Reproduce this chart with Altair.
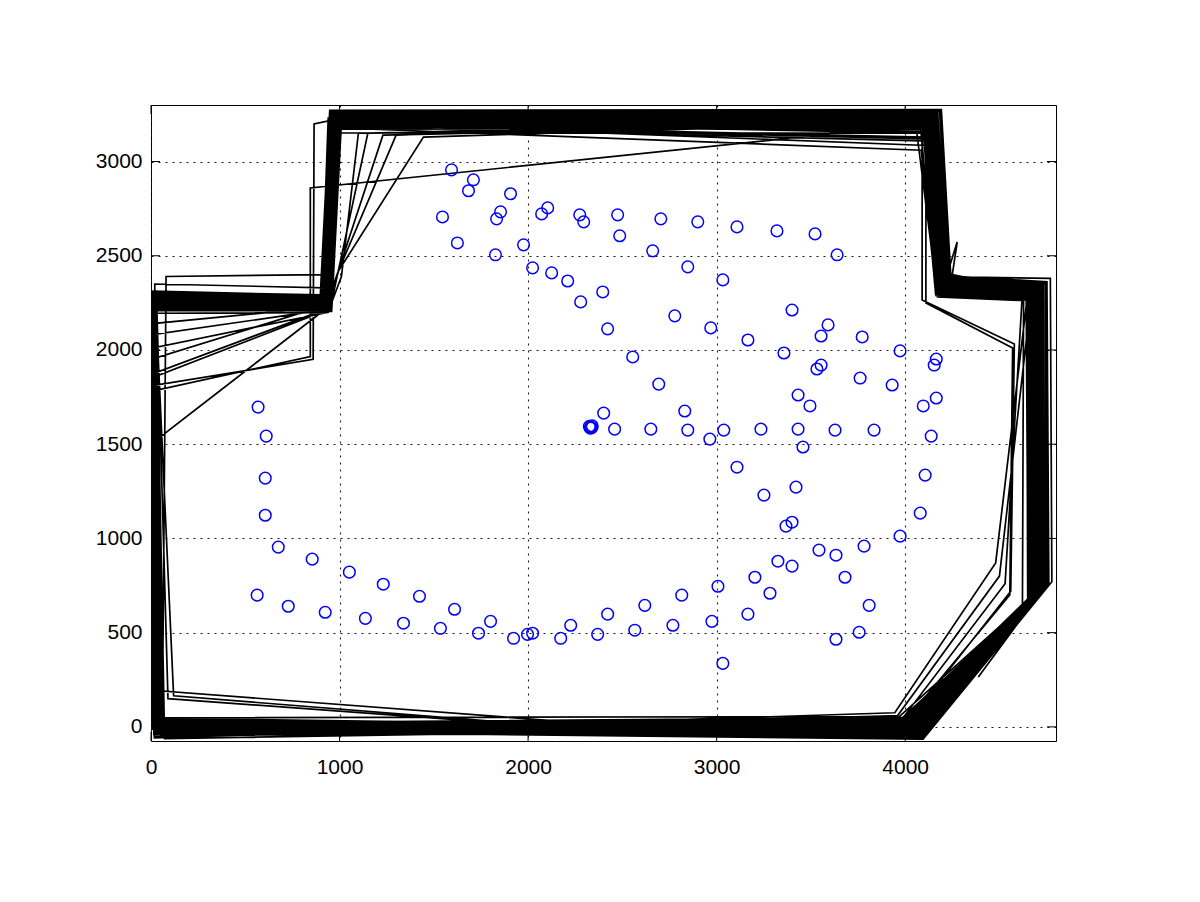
import altair as alt
import pandas as pd

# ---------------- data ----------------
circle_x = [1594, 1710, 1684, 1546, 1625, 1907, 1854, 1833, 2104, 2072, 2274, 2295, 2475, 2704, 2900,
            2486, 1976, 1827, 2661, 2024, 2125, 2847, 2210, 2396, 2279, 3033, 2778, 2422, 2969, 2555,
            2693, 2401, 2831, 3108, 3320, 3522, 3639, 3400, 3166, 3591, 3554, 3772, 3357, 3973, 3554,
            3532, 4165, 4154, 3761, 3931, 3432, 3495, 4096, 4165,
            568, 611, 606, 606, 675, 563, 855, 728, 1052, 924, 1232, 1137, 1424, 1339, 1610,
            1535, 1737, 1801, 1923, 1997, 2024, 2173, 2226, 2369, 2422, 2566, 2619, 2768, 2815, 2975, 3007,
            2459, 2651, 2847, 2964, 3038, 3235, 3432, 3628, 3835, 4138, 3458, 3108, 3421, 3251, 4106,
            4080, 3400, 3368, 3973, 3543, 3633, 3782, 3325, 3400, 3203, 3681, 3283, 3166, 3809, 3756,
            3633, 3033, 2332, 2325, 2338, 2330, 2340]
circle_y = [2956, 2903, 2845, 2706, 2568, 2829, 2733, 2696, 2754, 2722, 2717, 2680, 2717, 2696, 2680,
            2606, 2558, 2505, 2526, 2436, 2409, 2441, 2366, 2308, 2255, 2372, 2181, 2112, 2117, 1963,
            1819, 1665, 1676, 2653, 2632, 2616, 2505, 2212, 2053, 2133, 2074, 2069, 1984, 1995, 1920,
            1899, 1952, 1920, 1851, 1814, 1761, 1703, 1703, 1745,
            1697, 1543, 1320, 1123, 954, 699, 890, 640, 821, 608, 757, 576, 693, 550, 624,
            523, 497, 560, 470, 491, 497, 470, 539, 491, 598, 513, 645, 539, 699, 560, 746,
            1580, 1580, 1575, 1527, 1575, 1580, 1580, 1575, 1575, 1543, 1485, 1378, 1272, 1230, 1336,
            1134, 1086, 1065, 1012, 938, 911, 959, 879, 853, 794, 794, 709, 598, 645, 502,
            465, 337, 1591, 1595, 1588, 1585, 1597]

# robot trajectory, lap by lap (vertices)
laps = [
    [(35, -20), (8, 2265), (935, 2235), (985, 3215), (4125, 3230), (4195, 2335), (4690, 2300), (4700, 705), (4030, 5)],
    [(40, -10), (0, 1500), (955, 2240), (1000, 3205), (4110, 3215), (4185, 2320), (4680, 2295), (4690, 700), (4020, 10)],
    [(25, 15), (-5, 2285), (915, 2255), (965, 3245), (4150, 3250), (4215, 2350), (4715, 2325), (4725, 725), (4065, -30)],
    [(60, -45), (22, 2240), (950, 2215), (1000, 3190), (4100, 3200), (4180, 2310), (4660, 2280), (4665, 680), (4000, 25)],
    [(25, 0), (5, 2270), (940, 2245), (995, 2420), (1445, 3130), (4130, 3210), (4198, 2336), (4694, 2304), (4704, 712), (4040, 2)],
    [(15, 35), (2, 2300), (905, 2275), (958, 3262), (4172, 3262), (4232, 2372), (4732, 2342), (4742, 742), (4085, -52)],
    [(35, -5), (10, 2262), (933, 2240), (983, 3220), (4090, 3160), (4090, 2265), (4579, 2032), (4560, 720), (4010, 20)],
    [(48, 0), (14, 2222), (958, 2205), (1008, 3172), (4082, 3178), (4162, 2292), (4642, 2268), (4652, 662), (3985, 42)],
    [(30, 20), (0, 1850), (930, 2210), (985, 3220), (4125, 3225), (4195, 2330), (4690, 2300), (4700, 705), (4035, 0)],
    [(72, -62), (30, 2195), (928, 2198), (983, 3152), (4062, 3150), (4172, 2282), (4628, 2262), (4622, 642), (3970, 55)],
    [(8, 48), (-2, 2312), (898, 2292), (948, 3272), (4192, 3275), (4242, 2392), (4752, 2362), (4762, 758), (4092, -62)],
    [(50, -20), (12, 2250), (950, 2230), (1010, 2390), (1100, 3150), (4120, 3220), (4192, 2330), (4686, 2298), (4694, 704), (4030, 6)],
    [(38, -8), (26, 2252), (944, 2242), (994, 3222), (4132, 3222), (4202, 2342), (4702, 2312), (4712, 712), (4042, -12)],
    [(28, -22), (8, 2272), (926, 2246), (976, 3230), (4135, 3235), (4200, 2330), (4276, 2573), (4250, 2400), (4690, 2310), (4702, 708), (4038, -2)],
    [(28, 22), (6, 2275), (925, 2250), (975, 3235), (4140, 3240), (4205, 2345), (4705, 2315), (4718, 730), (4055, -20)],
    [(55, -30), (0, 1870), (950, 2225), (995, 3195), (4100, 3120), (4182, 2312), (4665, 2282), (4672, 688), (4005, 22)],
    [(55, -30), (18, 2232), (955, 2222), (1005, 3200), (4110, 3205), (4188, 2318), (4675, 2288), (4680, 690), (4015, 15)],
    [(2300, 20), (60, 190), (20, 2240), (950, 2222), (1000, 3200), (4106, 3206), (4186, 2318), (4676, 2290), (4684, 696), (4010, 30)],
    [(20, 5), (4, 2290), (912, 2262), (962, 3250), (4160, 3255), (4222, 2360), (4722, 2332), (4735, 735), (4075, -40)],
    [(38, 5), (15, 2245), (945, 2235), (1000, 2440), (1230, 3140), (4108, 3200), (4186, 2316), (4672, 2286), (4678, 692), (4012, 16)],
    [(42, -15), (12, 2258), (938, 2232), (988, 3208), (4118, 3212), (4192, 2325), (4685, 2295), (4692, 698), (4025, 10)],
    [(42, 8), (14, 2256), (939, 2236), (989, 3210), (4116, 3215), (4190, 2320), (4650, 2300), (4480, 870), (3945, 75)],
    [(65, -50), (28, 2210), (948, 2208), (998, 3182), (4092, 3190), (4175, 2300), (4652, 2272), (4658, 672), (3992, 32)],
    [(20, 0), (0, 1950), (920, 2235), (972, 3238), (4142, 3244), (4208, 2348), (4708, 2318), (4716, 724), (4058, -22)],
    [(12, 40), (0, 2305), (902, 2282), (955, 3266), (4182, 3268), (4236, 2380), (4742, 2350), (4750, 750), (4088, -55)],
    [(40, 10), (0, 1809), (860, 1950), (865, 3200), (985, 3225), (4140, 3235), (4205, 2345), (4705, 2315), (4715, 720), (4052, -18)],
    [(33, -5), (10, 2270), (930, 2245), (980, 3228), (4135, 3232), (4198, 2338), (4695, 2305), (4705, 715), (4045, 0)],
    [(22, -15), (6, 2268), (935, 2248), (990, 2410), (1300, 3140), (4145, 3240), (4210, 2350), (4710, 2320), (4720, 722), (4060, -24)],
    [(50, 12), (16, 2248), (942, 2228), (992, 3195), (4105, 3160), (4185, 2305), (4668, 2285), (4672, 700), (4010, 20)],
    [(45, 15), (16, 2250), (943, 2232), (993, 3205), (4110, 3170), (4110, 2250), (4570, 2010), (4555, 700), (4000, 30)],
    [(24, -35), (5, 2282), (918, 2258), (968, 3240), (4145, 3245), (4210, 2352), (4712, 2322), (4722, 722), (4062, -25)],
    [(35, 30), (5, 2010), (940, 2200), (990, 3210), (4118, 3215), (4190, 2322), (4682, 2292), (4690, 702), (4022, 12)],
    [(45, 28), (20, 2236), (952, 2218), (1002, 3198), (4098, 3130), (4170, 2290), (4655, 2275), (4662, 690), (3995, 38)],
    [(32, -8), (10, 2264), (931, 2242), (981, 3222), (4126, 3226), (4196, 2334), (4670, 2290), (4500, 800), (3960, 60)],
    [(18, -58), (2, 2295), (908, 2270), (960, 3258), (4168, 3258), (4228, 2368), (4728, 2338), (4738, 738), (4080, -45)],
    [(48, 12), (18, 2238), (952, 2225), (985, 2380), (1150, 3150), (4102, 3190), (4180, 2302), (4658, 2276), (4664, 676), (3994, 34)],
    [(58, 8), (24, 2226), (956, 2212), (1006, 3185), (4088, 3110), (4168, 2295), (4648, 2270), (4655, 668), (3988, 48)],
    [(2000, 10), (90, 150), (30, 2260), (940, 2240), (990, 3215), (4122, 3222), (4194, 2328), (4688, 2298), (4696, 706), (4032, 4)],
    [(30, -25), (9, 2262), (932, 2238), (982, 3218), (4128, 3225), (4196, 2332), (4692, 2302), (4698, 708), (4035, -5)],
    [(15, -40), (0, 2080), (935, 2215), (984, 3224), (4134, 3230), (4200, 2340), (4698, 2308), (4708, 716), (4048, -8)],
    [(40, 45), (14, 2245), (946, 2230), (996, 3205), (4115, 3085), (4190, 2320), (4678, 2292), (4686, 695), (4020, 18)],
    [(60, 10), (80, 2390), (910, 2400), (940, 3230), (4136, 3236), (4200, 2340), (4700, 2310), (4710, 714), (4046, -6)],
    [(10, -12), (-4, 2298), (900, 2288), (952, 3268), (4188, 3270), (4238, 2385), (4745, 2355), (4755, 752), (4090, -58)],
    [(30, -10), (0, 1780), (845, 1965), (845, 2860), (3315, 3116), (4150, 3215), (4212, 2352), (4714, 2322), (4722, 726), (4064, -28)],
    [(52, -42), (21, 2230), (953, 2220), (1003, 3192), (4095, 3195), (4178, 2306), (4662, 2278), (4668, 678), (3998, 28)],
    [(52, 25), (20, 2234), (954, 2216), (1004, 3196), (4096, 3180), (4176, 2304), (4620, 2270), (4530, 760), (3990, 50)],
    [(26, 18), (7, 2272), (922, 2252), (972, 3232), (4138, 3238), (4202, 2342), (4700, 2318), (4714, 718), (4050, -15)],
    [(45, 10), (10, 2140), (945, 2230), (994, 3210), (4112, 3214), (4188, 2322), (4680, 2290), (4688, 698), (4018, 14)],
    [(44, -2), (13, 2255), (940, 2236), (990, 3212), (4120, 3150), (4194, 2328), (4688, 2298), (4695, 702), (4028, 8)],
    [(20, -30), (20, 2350), (920, 2330), (960, 3250), (4155, 3250), (4216, 2356), (4716, 2326), (4726, 726), (4068, -32)],
    [(62, 30), (26, 2215), (950, 2205), (1000, 3178), (4085, 3060), (4165, 2288), (4645, 2266), (4650, 665), (3982, 45)],
    [(1800, 30), (120, 165), (25, 2250), (944, 2236), (994, 3212), (4118, 3218), (4192, 2326), (4684, 2294), (4692, 700), (4026, 10)],
    [(18, -50), (-3, 2300), (904, 2280), (956, 3264), (4185, 3266), (4240, 2388), (4770, 2380), (4778, 770), (4095, -65)],
    [(16, -20), (3, 2288), (910, 2265), (963, 3252), (4158, 3252), (4218, 2358), (4718, 2328), (4728, 728), (4070, -35)],
    [(40, 0), (12, 2255), (940, 2236), (990, 3210), (4120, 3222), (4194, 2330), (4680, 2290), (4700, 690), (4388, 264)],
]

x_ticks = [0, 1000, 2000, 3000, 4000]
y_ticks = [0, 500, 1000, 1500, 2000, 2500, 3000]
x_domain = [0, 4800]
y_domain = [-75, 3300]

# ---------------- tables ----------------
rows = []
k = 0
for lap in laps:
    for px, py in lap:
        rows.append({"x": px, "y": py, "i": k})
        k += 1
path = pd.DataFrame(rows)
pts = pd.DataFrame({"x": circle_x, "y": circle_y})
xt = pd.DataFrame({"x": x_ticks})
yt = pd.DataFrame({"y": y_ticks})

W, H = 905, 636
FONT = "Liberation Sans"
xs = alt.Scale(domain=x_domain, nice=False, zero=False)
ys = alt.Scale(domain=y_domain, nice=False, zero=False)

common = dict(format="d", grid=True, gridDash=[2, 5], gridColor="#1a1a1a", gridWidth=1.1,
              gridOpacity=1, ticks=False, domain=False, labelFont=FONT, labelFontSize=21,
              labelColor="#000000", labelFlush=False, labelOverlap=False, title=None)
x_axis = alt.Axis(values=x_ticks, labelPadding=15, **common)
y_axis = alt.Axis(values=y_ticks, labelPadding=9, **common)

X = alt.X("x:Q", scale=xs, axis=x_axis)
Y = alt.Y("y:Q", scale=ys, axis=y_axis)

lines = alt.Chart(path).mark_line(color="#000000", strokeWidth=1.7, clip=True).encode(
    x=X, y=Y, order=alt.Order("i:Q"),
)

points = alt.Chart(pts).mark_point(shape="circle", filled=False, size=135, strokeWidth=1.5,
                                   color="#0000ff", opacity=1, clip=True).encode(x=X, y=Y)

tick_bottom = alt.Chart(xt).mark_rule(color="#000000", strokeWidth=1).encode(
    x=X, y=alt.value(H), y2=alt.value(H - 9))
tick_top = alt.Chart(xt).mark_rule(color="#000000", strokeWidth=1).encode(
    x=X, y=alt.value(0), y2=alt.value(9))
tick_left = alt.Chart(yt).mark_rule(color="#000000", strokeWidth=1).encode(
    y=Y, x=alt.value(0), x2=alt.value(9))
tick_right = alt.Chart(yt).mark_rule(color="#000000", strokeWidth=1).encode(
    y=Y, x=alt.value(W), x2=alt.value(W - 9))

chart = alt.layer(lines, points, tick_bottom, tick_top, tick_left, tick_right).properties(
    width=W, height=H,
    autosize=alt.AutoSizeParams(type="none"),
    padding={"left": 151, "top": 105, "right": 144, "bottom": 161},
    background="#ffffff",
).configure_view(stroke="#000000", strokeWidth=1)

chart.save("out.html", embed_options={"renderer": "svg", "actions": False})
